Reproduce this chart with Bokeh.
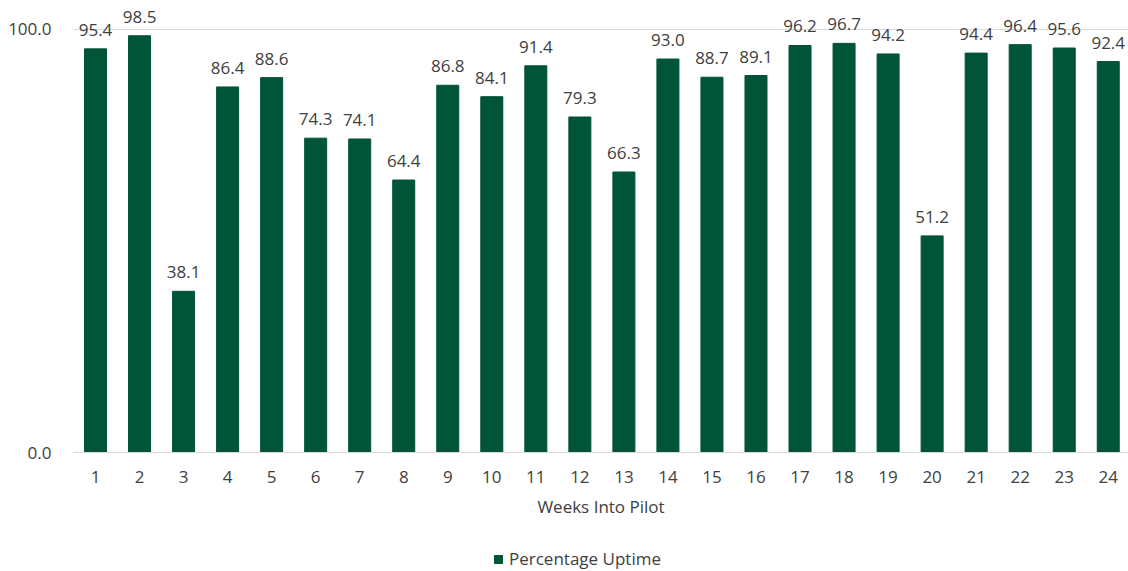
from bokeh.plotting import figure
from bokeh.layouts import column
from bokeh.models import ColumnDataSource, FixedTicker, Range1d, Legend, LegendItem
from bokeh.core.properties import value
from bokeh.embed import file_html
from bokeh.resources import INLINE

weeks = list(range(1, 25))
week_labels = [str(w) for w in weeks]
uptime = [95.4, 98.5, 38.1, 86.4, 88.6, 74.3, 74.1, 64.4, 86.8, 84.1, 91.4, 79.3,
          66.3, 93.0, 88.7, 89.1, 96.2, 96.7, 94.2, 51.2, 94.4, 96.4, 95.6, 92.4]
series_name = "Percentage Uptime"
x_title = "Weeks Into Pilot"

FONT = "Open Sans"
TXT = "#404040"
BAR = "#005437"
FS = "17px"

src = ColumnDataSource(dict(x=weeks, y=uptime, lab=[f"{v:.1f}" for v in uptime]))

p = figure(output_backend="svg", toolbar_location=None,
           x_range=Range1d(0.5, 24.46), y_range=Range1d(0, 106.36),
           frame_width=1055, frame_height=450,
           min_border_left=73, min_border_top=2, min_border_right=0, min_border_bottom=88)
p.outline_line_color = None
p.background_fill_color = "white"

r = p.vbar(x="x", top="y", width=0.5, source=src, fill_color=BAR, line_color=BAR)
p.text(x="x", y="y", text="lab", source=src, text_align="center", text_baseline="bottom",
       y_offset=-13, text_font=value(FONT), text_font_size=FS, text_color=TXT)

xa = p.xaxis[0]
xa.ticker = FixedTicker(ticks=weeks)
xa.major_label_overrides = {w: l for w, l in zip(weeks, week_labels)}
xa.axis_line_color = "#d9d9d9"
xa.major_tick_line_color = None
xa.minor_tick_line_color = None
xa.major_label_text_font = FONT
xa.major_label_text_font_size = FS
xa.major_label_text_color = TXT
xa.major_label_standoff = 12
xa.axis_label = x_title
xa.axis_label_text_font = FONT
xa.axis_label_text_font_size = FS
xa.axis_label_text_font_style = "normal"
xa.axis_label_text_color = TXT
xa.axis_label_standoff = 9

ya = p.yaxis[0]
ya.ticker = FixedTicker(ticks=[0, 100])
ya.major_label_overrides = {0: "0.0", 100: "100.0"}
ya.axis_line_color = None
ya.major_tick_line_color = None
ya.minor_tick_line_color = None
ya.major_label_text_font = FONT
ya.major_label_text_font_size = FS
ya.major_label_text_color = TXT
ya.major_label_standoff = 16

p.xgrid.grid_line_color = None
p.ygrid.ticker = FixedTicker(ticks=[100])
p.ygrid.grid_line_color = "#d9d9d9"

# legend strip below the chart (proxy renderer kept outside the visible range)
lf = figure(output_backend="svg", toolbar_location=None,
            x_range=Range1d(0, 1), y_range=Range1d(0, 1),
            frame_width=1128, frame_height=31,
            min_border_left=0, min_border_right=0, min_border_top=0, min_border_bottom=0)
lf.axis.visible = False
lf.grid.visible = False
lf.outline_line_color = None
lr = lf.vbar(x=[5], bottom=[-3], top=[-2], width=0.5, fill_color=BAR, line_color=BAR)
leg = Legend(items=[LegendItem(label=series_name, renderers=[lr])], location=(493, 1),
             orientation="horizontal", padding=0, margin=0, spacing=0,
             glyph_width=10, glyph_height=10, label_height=20, label_standoff=6,
             label_text_font=FONT, label_text_font_size=FS, label_text_color=TXT,
             border_line_color=None, background_fill_alpha=0)
lf.add_layout(leg, "center")

layout = column(p, lf, spacing=0)
open("out.html", "w").write(file_html(layout, INLINE))
